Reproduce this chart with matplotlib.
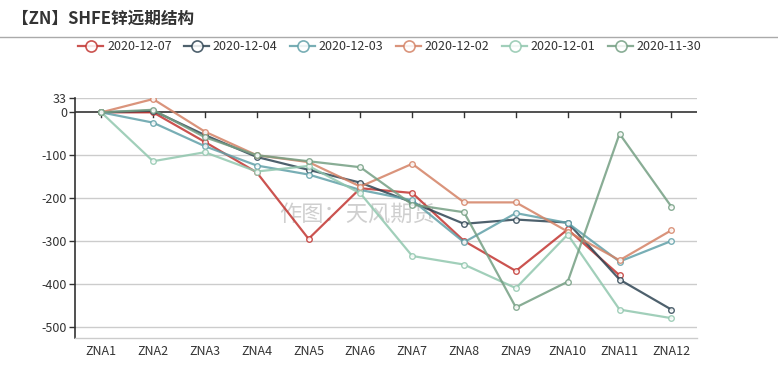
import matplotlib
matplotlib.use("Agg")
import matplotlib.pyplot as plt
from matplotlib.lines import Line2D
import numpy as np

plt.rcParams['font.family'] = ['Noto Sans CJK SC', 'DejaVu Sans']

categories = ["ZNA1", "ZNA2", "ZNA3", "ZNA4", "ZNA5", "ZNA6",
              "ZNA7", "ZNA8", "ZNA9", "ZNA10", "ZNA11", "ZNA12"]

s_1207 = [0, 0, -69, -140, -295, -177, -188, -300, -370, -273, -380, None]
s_1204 = [0, 4, -53, -104, -134, -164, -210, -260, -250, -257, -390, -460]
s_1203 = [0, -24, -79, -124, -145, -181, -205, -303, -235, -258, -348, -300]
s_1202 = [0, 31, -45, -100, -116, -173, -120, -210, -210, -278, -345, -275]
s_1201 = [0, -114, -93, -138, -125, -189, -335, -355, -410, -285, -460, -480]
s_1130 = [0, 6, -58, -100, -114, -128, -215, -233, -455, -395, -50, -220]

series_names = ["2020-12-07", "2020-12-04", "2020-12-03",
                "2020-12-02", "2020-12-01", "2020-11-30"]
series_values = [s_1207, s_1204, s_1203, s_1202, s_1201, s_1130]
colors = ["#c23531", "#2f4554", "#61a0a8", "#d48265", "#91c7ae", "#749f83"]

y_ticks = [33, 0, -100, -200, -300, -400, -500]
y_min, y_max = -527, 33

W, H = 778, 389
fig = plt.figure(figsize=(W / 100, H / 100), dpi=100)
ax = fig.add_axes([75.3 / W, 1 - 338.3 / H, (697.3 - 75.3) / W, (338.3 - 98.2) / H])

x = np.arange(len(categories))
for name, vals, c in zip(series_names, series_values, colors):
    y = np.array([np.nan if v is None else v for v in vals], dtype=float)
    ax.plot(x, y, color=c, lw=1.6, alpha=0.85, marker='o', markersize=4,
            markerfacecolor='white', markeredgecolor=c, markeredgewidth=1.0,
            zorder=3, solid_joinstyle='round')

ax.set_xlim(-0.5, len(categories) - 0.5)
ax.set_ylim(y_min, y_max)

# grid lines
for t in y_ticks:
    if t != 0:
        ax.axhline(t, color='#cccccc', lw=1, zorder=1)
ax.axhline(0, color='#333333', lw=1.2, zorder=2)
# ticks on zero line
for xi in x:
    ax.plot([xi, xi], [0, -12], color='#333333', lw=1, zorder=2, clip_on=False)

ax.set_yticks(y_ticks)
ax.set_yticklabels([str(t) for t in y_ticks])
ax.set_xticks(x)
ax.set_xticklabels(categories)
ax.tick_params(axis='x', length=0, pad=5, labelsize=9, labelcolor='#333333')
ax.tick_params(axis='y', length=4, width=1, color='#333333', pad=2,
               labelsize=9, labelcolor='#333333')

for s in ['top', 'right']:
    ax.spines[s].set_visible(False)
ax.spines['left'].set_color('#333333')
ax.spines['left'].set_linewidth(1.2)
ax.spines['bottom'].set_color('#cccccc')
ax.spines['bottom'].set_linewidth(1)

# watermark
ax.text(0.453, 0.513, "作图：天风期货", transform=ax.transAxes, ha='center', va='center',
        fontsize=16, color='#bbbbbb', alpha=0.7, zorder=2)

# title and separator
fig.text(12 / W, 1 - 19 / H, "【ZN】SHFE锌远期结构", fontsize=12, fontweight='bold',
         color='#333333', ha='left', va='center')
fig.add_artist(Line2D([0, 1], [1 - 37 / H, 1 - 37 / H], color='#aaaaaa', lw=1,
                      transform=fig.transFigure))

handles = [Line2D([0], [0], color=c, lw=1.6, alpha=0.85, marker='o', markersize=8,
                  markerfacecolor='white', markeredgecolor=c, markeredgewidth=1.2)
           for c in colors]
fig.legend(handles, series_names, loc='center', bbox_to_anchor=(390 / W, 1 - 47 / H),
           ncol=6, frameon=False, fontsize=9, handlelength=2.0, handletextpad=0.3,
           columnspacing=1.0, labelcolor='#333333')

fig.savefig("out.png", dpi=100)
